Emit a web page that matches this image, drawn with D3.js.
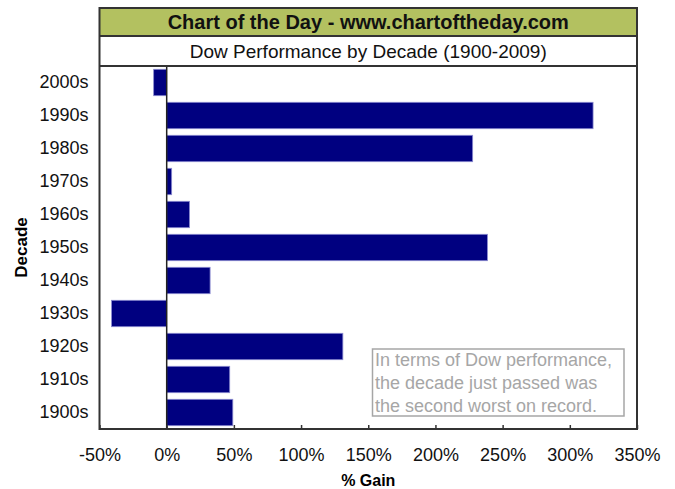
<!DOCTYPE html>
<meta charset="utf-8">
<style>
body { margin: 0; background: #fff; font-family: "Liberation Sans", Arial, sans-serif; }
.tick text { font-size: 18px; fill: #111; }
</style>
<body>
<script src="https://d3js.org/d3.v7.min.js"></script>
<script>
var decades = ["2000s","1990s","1980s","1970s","1960s","1950s","1940s","1930s","1920s","1910s","1900s"];
var gains = [-9.7, 317.3, 227.7, 3.7, 17, 238.7, 32.3, -41, 131.1, 46.9, 49.2];
var xTicks = [-50, 0, 50, 100, 150, 200, 250, 300, 350];
var noteLines = ["In terms of Dow performance,", "the decade just passed was", "the second worst on record."];

var W = 675, H = 489;
var frame = {left: 99.5, right: 637, top: 8, titleBottom: 36, subBottom: 66, bottom: 429};

var svg = d3.select("body").append("svg")
    .attr("width", W)
    .attr("height", H);

var x = d3.scaleLinear()
    .domain([-50, 350])
    .range([frame.left, frame.right]);

var y = d3.scaleBand()
    .domain(decades)
    .range([frame.subBottom, frame.bottom])
    .paddingInner(0.2)
    .paddingOuter(0.1);

// title band
svg.append("rect")
    .attr("x", frame.left).attr("y", frame.top)
    .attr("width", frame.right - frame.left)
    .attr("height", frame.titleBottom - frame.top)
    .attr("fill", "#b3c160");

svg.append("text")
    .attr("x", (frame.left + frame.right) / 2)
    .attr("y", 29)
    .attr("text-anchor", "middle")
    .style("font-size", "20px")
    .style("font-weight", "bold")
    .attr("fill", "#111")
    .text("Chart of the Day - www.chartoftheday.com");

svg.append("text")
    .attr("x", (frame.left + frame.right) / 2)
    .attr("y", 58)
    .attr("text-anchor", "middle")
    .style("font-size", "19px")
    .attr("fill", "#111")
    .text("Dow Performance by Decade (1900-2009)");

// bars
svg.selectAll(".bar")
    .data(decades)
  .enter().append("rect")
    .attr("class", "bar")
    .attr("x", function(d, i) { return x(Math.min(0, gains[i])); })
    .attr("y", function(d) { return y(d); })
    .attr("width", function(d, i) { return Math.abs(x(gains[i]) - x(0)); })
    .attr("height", y.bandwidth())
    .attr("fill", "#000080")
    .attr("stroke", "#8a8ad0")
    .attr("stroke-width", 0.8);

// zero line
svg.append("line")
    .attr("x1", x(0)).attr("x2", x(0))
    .attr("y1", frame.subBottom).attr("y2", frame.bottom)
    .attr("stroke", "#222")
    .attr("stroke-width", 1.5);

// axes
var xAxis = svg.append("g")
    .attr("transform", "translate(0," + frame.bottom + ")")
    .call(d3.axisBottom(x).tickValues(xTicks).tickSize(-4).tickPadding(19)
      .tickFormat(function(d) { return d + "%"; }));
xAxis.select(".domain").remove();
xAxis.selectAll(".tick line").attr("stroke", "#333").attr("stroke-width", 1.5);

var yAxis = svg.append("g")
    .attr("transform", "translate(" + (frame.left - 11) + ",0)")
    .call(d3.axisLeft(y).tickSize(0).tickPadding(0));
yAxis.select(".domain").remove();

// frame lines
svg.append("rect")
    .attr("x", frame.left).attr("y", frame.top)
    .attr("width", frame.right - frame.left)
    .attr("height", frame.bottom - frame.top)
    .attr("fill", "none")
    .attr("stroke", "#333")
    .attr("stroke-width", 2);

[frame.titleBottom, frame.subBottom].forEach(function(yy) {
  svg.append("line")
      .attr("x1", frame.left).attr("x2", frame.right)
      .attr("y1", yy).attr("y2", yy)
      .attr("stroke", "#333")
      .attr("stroke-width", 2);
});

// axis titles
svg.append("text")
    .attr("transform", "translate(27," + ((frame.subBottom + frame.bottom) / 2) + ") rotate(-90)")
    .attr("text-anchor", "middle")
    .style("font-size", "17px")
    .style("font-weight", "bold")
    .attr("fill", "#000")
    .text("Decade");

svg.append("text")
    .attr("x", (frame.left + frame.right) / 2)
    .attr("y", 486)
    .attr("text-anchor", "middle")
    .style("font-size", "16px")
    .style("font-weight", "bold")
    .attr("fill", "#000")
    .text("% Gain");

// note box
svg.append("rect")
    .attr("x", 372.5).attr("y", 349)
    .attr("width", 251.5).attr("height", 67)
    .attr("fill", "#fff")
    .attr("stroke", "#a6a6a6")
    .attr("stroke-width", 1.5);

svg.selectAll(".note")
    .data(noteLines)
  .enter().append("text")
    .attr("class", "note")
    .attr("x", 375)
    .attr("y", function(d, i) { return 366 + i * 23; })
    .style("font-size", "18px")
    .attr("fill", "#a6a6a6")
    .text(function(d) { return d; });
</script>
